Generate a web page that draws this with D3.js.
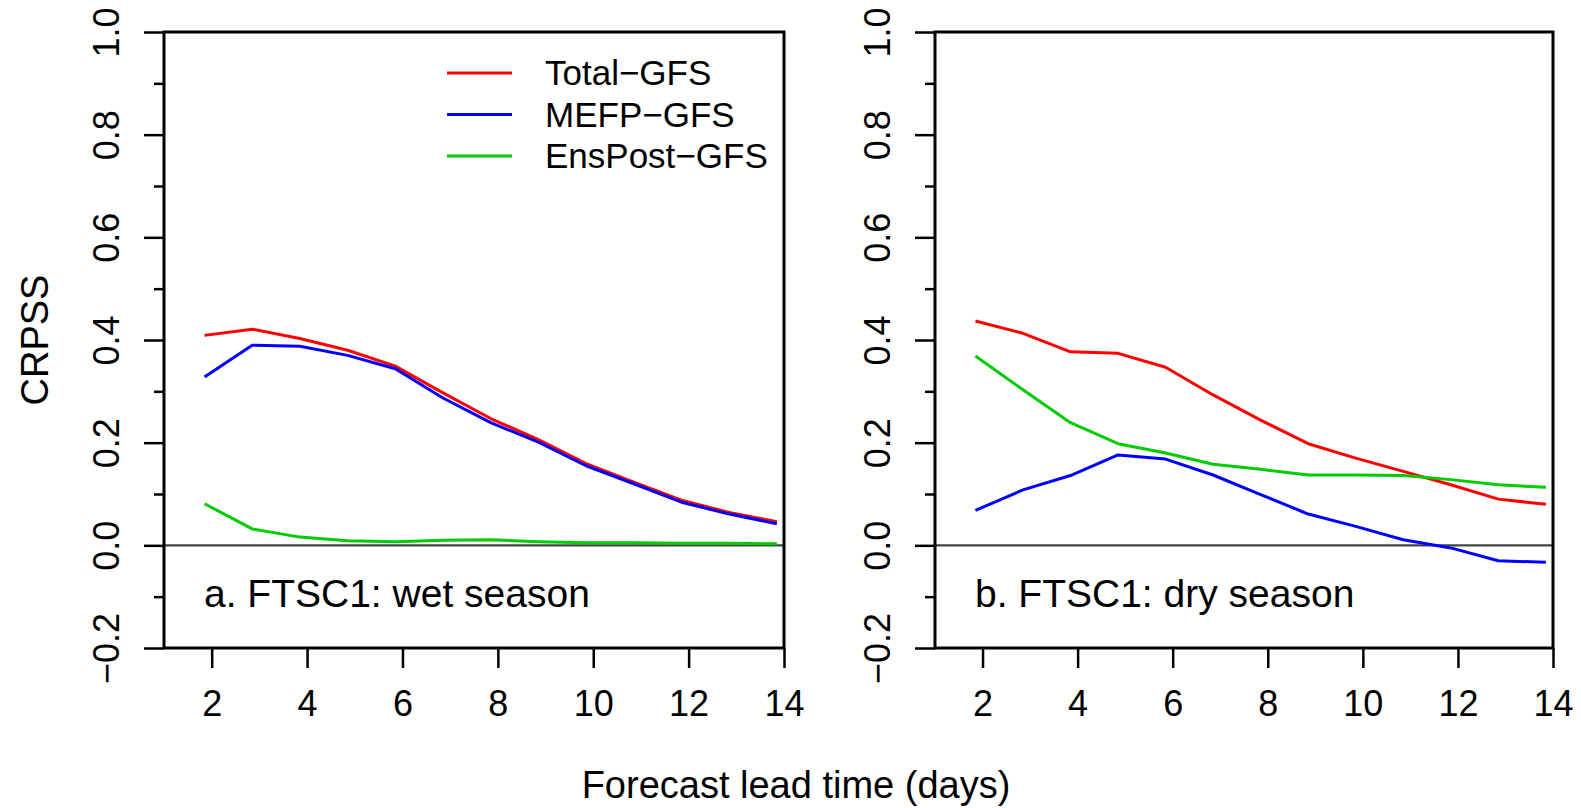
<!DOCTYPE html>
<html>
<head>
<meta charset="utf-8">
<script src="https://cdn.jsdelivr.net/npm/d3@7"></script>
<style>
  body { margin: 0; background: #fff; }
  svg { font-family: "Liberation Sans", Arial, Helvetica, sans-serif; }
</style>
</head>
<body>
<div class="chart"></div>
<script>
// lead time (days) of each plotted point
let leadDays = [1.85, 2.85, 3.85, 4.85, 5.85, 6.85, 7.85, 8.85, 9.85, 10.85, 11.85, 12.85, 13.85];

// a. wet season
let wetTotal   = [0.409, 0.421, 0.403, 0.380, 0.349, 0.297, 0.247, 0.206, 0.159, 0.123, 0.088, 0.064, 0.046];
let wetMEFP    = [0.328, 0.390, 0.388, 0.370, 0.344, 0.287, 0.239, 0.201, 0.155, 0.120, 0.084, 0.061, 0.042];
let wetEnsPost = [0.081, 0.032, 0.016, 0.009, 0.007, 0.010, 0.011, 0.007, 0.005, 0.005, 0.004, 0.004, 0.003];

// b. dry season
let dryTotal   = [0.437, 0.413, 0.377, 0.374, 0.347, 0.293, 0.244, 0.198, 0.170, 0.144, 0.118, 0.090, 0.080];
let dryMEFP    = [0.068, 0.108, 0.136, 0.176, 0.168, 0.137, 0.099, 0.061, 0.037, 0.011, -0.005, -0.030, -0.033];
let dryEnsPost = [0.369, 0.303, 0.239, 0.198, 0.180, 0.158, 0.148, 0.137, 0.137, 0.136, 0.128, 0.118, 0.113];

let seriesNames = ['Total\u2212GFS', 'MEFP\u2212GFS', 'EnsPost\u2212GFS'];
let seriesColors = ['#ff0000', '#0000ff', '#00cc00'];

let panelLabels = ['a. FTSC1: wet season', 'b. FTSC1: dry season'];
let xTicks = [2, 4, 6, 8, 10, 12, 14];
let yTicks = [-0.2, 0, 0.2, 0.4, 0.6, 0.8, 1.0];
let yMinorTicks = [-0.1, 0.1, 0.3, 0.5, 0.7, 0.9];

let panels = [
  {label: panelLabels[0], series: [wetTotal, wetMEFP, wetEnsPost], left: 164, width: 620, legend: true},
  {label: panelLabels[1], series: [dryTotal, dryMEFP, dryEnsPost], left: 935, width: 618, legend: false}
];

let plotTop = 32, plotHeight = 616;

let svg = d3.select('.chart')
  .append('svg')
  .attr('width', 1581)
  .attr('height', 808);

let yScale = d3.scaleLinear()
  .domain([-0.2, 1.0])
  .range([plotTop + plotHeight, plotTop]);

panels.forEach(p => {
  let xScale = d3.scaleLinear()
    .domain([1, 14])
    .range([p.left, p.left + p.width]);

  let g = svg.append('g');

  // zero line
  g.append('line')
    .attr('x1', p.left).attr('x2', p.left + p.width)
    .attr('y1', yScale(0)).attr('y2', yScale(0))
    .style('stroke', '#444')
    .style('stroke-width', 2.2);

  // series
  let line = d3.line()
    .x((d, i) => xScale(leadDays[i]))
    .y(d => yScale(d));

  p.series.forEach((s, k) => {
    g.append('path')
      .datum(s)
      .attr('d', line)
      .style('fill', 'none')
      .style('stroke', seriesColors[k])
      .style('stroke-width', 3)
      .style('stroke-linejoin', 'round');
  });

  // frame
  g.append('rect')
    .attr('x', p.left).attr('y', plotTop)
    .attr('width', p.width).attr('height', plotHeight)
    .style('fill', 'none')
    .style('stroke', '#000')
    .style('stroke-width', 3);

  // y axis, major ticks with rotated labels
  let yAxis = d3.axisLeft(yScale)
    .tickValues(yTicks)
    .tickSize(20)
    .tickSizeOuter(0)
    .tickFormat(d3.format('.1f'));
  let ya = g.append('g')
    .attr('transform', `translate(${p.left}, 0)`)
    .call(yAxis);
  ya.select('.domain').remove();
  ya.selectAll('line').style('stroke', '#000').style('stroke-width', 2.5);
  ya.selectAll('text')
    .attr('x', null).attr('dy', null)
    .attr('text-anchor', 'middle')
    .attr('transform', 'translate(-45, 0) rotate(-90)')
    .style('font-size', '36px')
    .style('fill', '#000')
    .text(d => d3.format('.1f')(d).replace('-', '\u2212'));

  // y minor ticks
  let yMinor = d3.axisLeft(yScale)
    .tickValues(yMinorTicks)
    .tickSize(10)
    .tickSizeOuter(0)
    .tickFormat('');
  let ym = g.append('g')
    .attr('transform', `translate(${p.left}, 0)`)
    .call(yMinor);
  ym.select('.domain').remove();
  ym.selectAll('line').style('stroke', '#000').style('stroke-width', 2.5);

  // x axis
  let xAxis = d3.axisBottom(xScale)
    .tickValues(xTicks)
    .tickSize(20)
    .tickSizeOuter(0);
  let xa = g.append('g')
    .attr('transform', `translate(0, ${plotTop + plotHeight})`)
    .call(xAxis);
  xa.select('.domain').remove();
  xa.selectAll('line').style('stroke', '#000').style('stroke-width', 2.5);
  xa.selectAll('text')
    .attr('y', 68).attr('dy', null)
    .style('font-size', '36px')
    .style('fill', '#000');

  // panel label
  g.append('text')
    .attr('x', p.left + 40)
    .attr('y', 607)
    .style('font-size', '39px')
    .text(p.label);

  // legend
  if (p.legend) {
    let rows = g.selectAll('.legend')
      .data(seriesNames)
      .enter()
      .append('g')
      .attr('class', 'legend')
      .attr('transform', (d, i) => `translate(447, ${73 + i * 41.5})`);
    rows.append('line')
      .attr('x1', 0).attr('x2', 65)
      .style('stroke', (d, i) => seriesColors[i])
      .style('stroke-width', 3);
    rows.append('text')
      .attr('x', 98)
      .attr('dy', '0.35em')
      .style('font-size', '35px')
      .text(d => d);
  }
});

// axis titles
svg.append('text')
  .attr('transform', `translate(48, ${plotTop + plotHeight / 2}) rotate(-90)`)
  .attr('text-anchor', 'middle')
  .style('font-size', '38px')
  .text('CRPSS');

svg.append('text')
  .attr('x', 796)
  .attr('y', 798)
  .attr('text-anchor', 'middle')
  .style('font-size', '38px')
  .text('Forecast lead time (days)');
</script>
</body>
</html>
